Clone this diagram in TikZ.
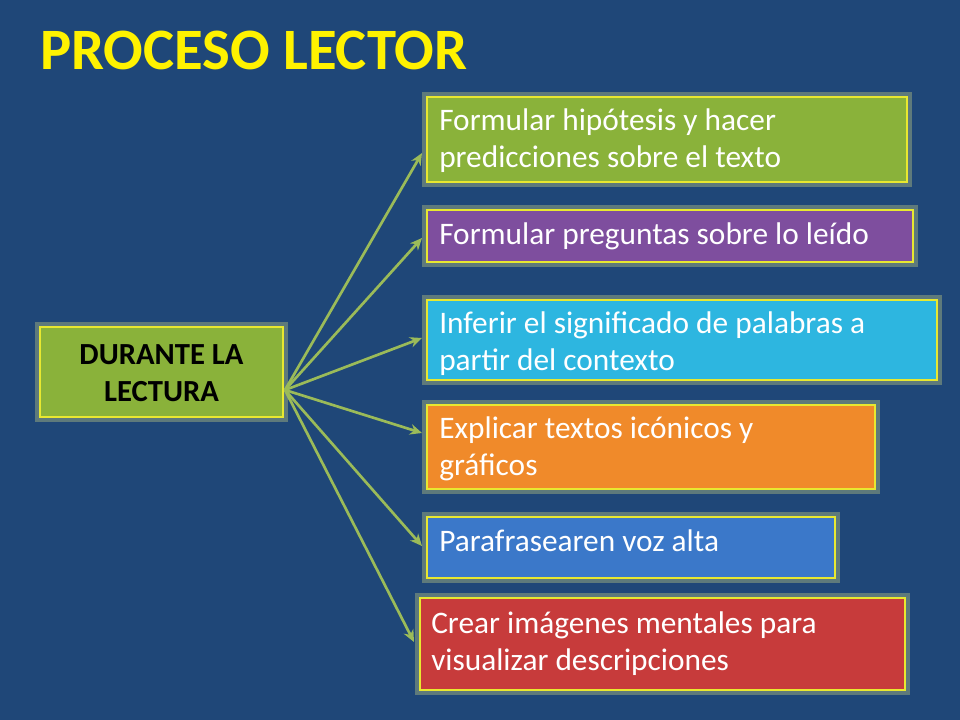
\documentclass[tikz,border=0pt]{standalone}
\usepackage{fontspec}
\setmainfont{Carlito}
\usetikzlibrary{arrows.meta}
\definecolor{bg}{HTML}{1F4778}
\definecolor{gr}{HTML}{8AB23A}
\definecolor{pu}{HTML}{7E4E9E}
\definecolor{cy}{HTML}{2DB6E0}
\definecolor{orn}{HTML}{F08A2A}
\definecolor{bl}{HTML}{3B78C9}
\definecolor{rd}{HTML}{C73B3B}
\definecolor{yb}{HTML}{E8E830}
\definecolor{ar}{HTML}{9BBB59}
\begin{document}
\begin{tikzpicture}[x=0.75pt,y=-0.75pt,
 box/.style={draw=yb,line width=1.5pt,inner sep=0pt},
 txt/.style={anchor=north west,text=white,font=\fontsize{23.5}{28}\selectfont,align=left,inner sep=0pt},
 conn/.style={draw=ar,line width=2pt,-{Stealth[length=9pt,width=8pt]}}]
\fill[bg] (0,0) rectangle (960,720);
\useasboundingbox (0,0) rectangle (960,720);
\node[anchor=west,text=yellow,font=\bfseries\fontsize{44}{48}\selectfont,inner sep=0pt] (title) at (40,50) {PROCESO LECTOR};
\foreach \n/\a/\b/\c/\d/\col in {b1/427/97/907/182/gr, b2/427/210/913/262/pu, b3/427/300/937/380/cy, b4/427/405/875/489/orn, b5/427/517/835/578/bl, b6/420/598/905/690/rd, l/40/327/283/417/gr}{
  \draw[yb!60,line width=8pt,opacity=0.3] (\a,\b) rectangle (\c,\d);
  \draw[box,fill=\col] (\a,\b) rectangle (\c,\d);
  \coordinate (\n) at (\a,{(\b+\d)/2});
}
\node[txt] (t1) at (439,108) {Formular hipótesis y hacer\\predicciones sobre el texto};
\node[txt] (t2) at (439,222) {Formular preguntas sobre lo leído};
\node[txt] (t3) at (439,311) {Inferir el significado de palabras a\\partir del contexto};
\node[txt] (t4) at (439,416) {Explicar textos icónicos y\\gráficos};
\node[txt] (t5) at (439,529) {Parafrasearen voz alta};
\node[txt] (t6) at (431,611) {Crear imágenes mentales para\\visualizar descripciones};
\node[align=center,font=\bfseries\fontsize{23}{28}\selectfont,inner sep=0pt] (lt) at (161.5,373) {DURANTE LA\\LECTURA};
\coordinate (src) at (285,390);
\coordinate (e1) at (422,153);
\coordinate (e2) at (422,238);
\coordinate (e3) at (422,338);
\coordinate (e4) at (422,433);
\coordinate (e5) at (422,546);
\coordinate (e6) at (414,642);
\foreach \e in {e1,e2,e3,e4,e5,e6}{\draw[conn] (src) -- (\e);}
\end{tikzpicture}
\end{document}
